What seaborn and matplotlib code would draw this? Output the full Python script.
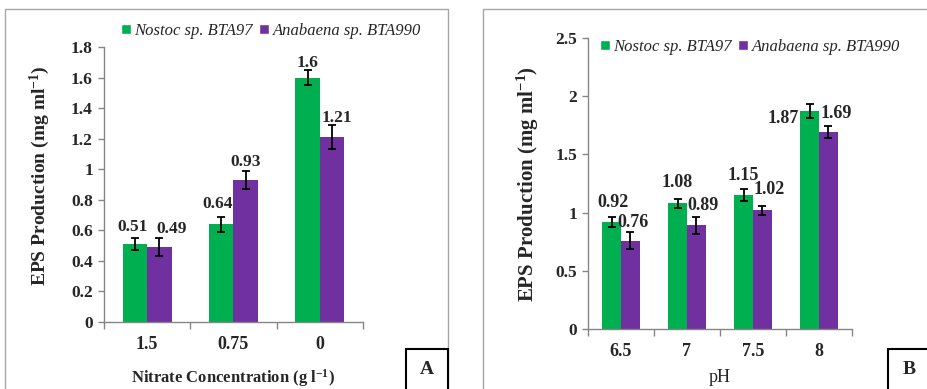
import numpy as np
import pandas as pd
import seaborn as sns
import matplotlib.pyplot as plt
from matplotlib.patches import Patch, Rectangle
from matplotlib.ticker import FuncFormatter, FixedLocator

strains = ["Nostoc sp. BTA97", "Anabaena sp. BTA990"]
colors = ["#00B050", "#7030A0"]

nitrate = ["1.5", "0.75", "0"]
nitrate_nostoc = [0.51, 0.64, 1.60]
nitrate_anabaena = [0.49, 0.93, 1.21]
nitrate_nostoc_err = [0.04, 0.05, 0.05]
nitrate_anabaena_err = [0.06, 0.06, 0.08]
nitrate_nostoc_lbl = ["0.51", "0.64", "1.6"]
nitrate_anabaena_lbl = ["0.49", "0.93", "1.21"]

ph = ["6.5", "7", "7.5", "8"]
ph_nostoc = [0.92, 1.08, 1.15, 1.87]
ph_anabaena = [0.76, 0.89, 1.02, 1.69]
ph_nostoc_err = [0.04, 0.04, 0.05, 0.06]
ph_anabaena_err = [0.07, 0.07, 0.04, 0.05]
ph_nostoc_lbl = ["0.92", "1.08", "1.15", "1.87"]
ph_anabaena_lbl = ["0.76", "0.89", "1.02", "1.69"]

# label nudges in pixels (dx, dy above the error bar top), one pair per bar
nudge_A = [[(-2, 11), (-4, 13), (0, 7)], [(12, 9), (0, 9), (5, 7)]]
nudge_B = [[(1, 15), (0, 16), (0, 14), (-26, -14)],
           [(3, 10), (7, 12), (7, 16), (8, 13)]]

sns.set_theme(style="white")
plt.rcParams["font.family"] = ["Liberation Serif", "DejaVu Serif"]
plt.rcParams["mathtext.default"] = "regular"

W, H = 928, 389
fig = plt.figure(figsize=(W / 100, H / 100), dpi=100)


def px_axes(x0, y0, x1, y1):
    return fig.add_axes([x0 / W, 1 - y1 / H, (x1 - x0) / W, (y1 - y0) / H])


def draw_panel(ax, cats, a, b, ea, eb, la, lb, nudge, ymax, step, fs):
    df = pd.DataFrame({
        "cat": cats * 2,
        "strain": [strains[0]] * len(cats) + [strains[1]] * len(cats),
        "val": a + b,
    })
    sns.barplot(data=df, x="cat", y="val", hue="strain", order=cats,
                hue_order=strains, palette=colors, width=0.57, gap=0,
                saturation=1, errorbar=None, legend=False, linewidth=0, ax=ax)
    for cont, errs, lbls, nd in zip(ax.containers, [ea, eb], [la, lb], nudge):
        xs = [p.get_x() + p.get_width() / 2 for p in cont]
        ys = [p.get_height() for p in cont]
        ax.errorbar(xs, ys, yerr=errs, fmt="none", ecolor="black",
                    elinewidth=1.3, capsize=3, capthick=1.3)
        for x, y, e, t, (dx, dy) in zip(xs, ys, errs, lbls, nd):
            ax.annotate(t, (x, y + e), xytext=(dx, dy), textcoords="offset pixels",
                        ha="center", va="center", fontsize=fs, fontweight="bold")
    ax.set_xlim(-0.5, len(cats) - 0.5)
    ax.set_ylim(0, ymax)
    ax.set_yticks(np.arange(0, ymax + step / 2, step))
    ax.yaxis.set_major_formatter(FuncFormatter(lambda v, p: f"{v:g}"))
    ax.xaxis.set_minor_locator(FixedLocator(np.arange(-0.5, len(cats), 1)))
    ax.tick_params(axis="x", which="major", length=0, pad=10, labelsize=13)
    ax.tick_params(axis="x", which="minor", length=5, color="#868686", width=1, bottom=True)
    ax.tick_params(axis="y", length=4, color="#868686", width=1, left=True, pad=4, labelsize=12.5)
    for lab in ax.get_xticklabels() + ax.get_yticklabels():
        lab.set_fontweight("bold")
    ax.set_xlabel("")
    ax.set_ylabel("")
    sns.despine(ax=ax)
    for s in ["left", "bottom"]:
        ax.spines[s].set_color("#868686")
        ax.spines[s].set_linewidth(1)


axA = px_axes(104, 47, 363, 322)
draw_panel(axA, nitrate, nitrate_nostoc, nitrate_anabaena, nitrate_nostoc_err,
           nitrate_anabaena_err, nitrate_nostoc_lbl, nitrate_anabaena_lbl,
           nudge_A, 1.8, 0.2, 12.5)

axB = px_axes(588, 38, 852, 329)
draw_panel(axB, ph, ph_nostoc, ph_anabaena, ph_nostoc_err,
           ph_anabaena_err, ph_nostoc_lbl, ph_anabaena_lbl,
           nudge_B, 2.5, 0.5, 13)

handles = [Patch(facecolor=c, label=s) for c, s in zip(colors, strains)]
for cx, cy in [(271, 31), (750, 47)]:
    fig.legend(handles=handles, loc="center", bbox_to_anchor=(cx / W, 1 - cy / H),
               ncol=2, frameon=False, handlelength=0.6, handleheight=0.6,
               handletextpad=0.2, columnspacing=0.4, borderpad=0,
               prop={"family": "Liberation Serif", "style": "italic", "size": 12})

ylabel = "EPS Production (mg ml$^{-1}$)"
fig.text(40 / W, 1 - 176 / H, ylabel, rotation=90, ha="center", va="center",
         fontsize=14, fontweight="bold")
fig.text(528 / W, 1 - 184 / H, ylabel, rotation=90, ha="center", va="center",
         fontsize=15, fontweight="bold")
fig.text(233 / W, 1 - 378 / H, "Nitrate Concentration (g l$^{-1}$)", ha="center",
         va="center", fontsize=12, fontweight="bold")
fig.text(720 / W, 1 - 378 / H, "pH", ha="center", va="center", fontsize=13)

# panel frames and letter boxes (pixel coordinates)
for x0, x1 in [(5, 448), (483, 940)]:
    fig.patches.append(Rectangle((x0 / W, -0.1), (x1 - x0) / W, 1.1 - 9 / H,
                                 transform=fig.transFigure, fill=False,
                                 edgecolor="#a6a6a6", lw=1))
for x0, x1, letter in [(406, 448, "A"), (888, 940, "B")]:
    fig.patches.append(Rectangle((x0 / W, -0.1), (x1 - x0) / W, 0.1 + 1 - 349 / H,
                                 transform=fig.transFigure, fill=False,
                                 edgecolor="black", lw=1.5))
    fig.text((x0 + 21) / W, 1 - 369 / H, letter, ha="center", va="center",
             fontsize=14, fontweight="bold")

fig.savefig("out.png", dpi=100)
